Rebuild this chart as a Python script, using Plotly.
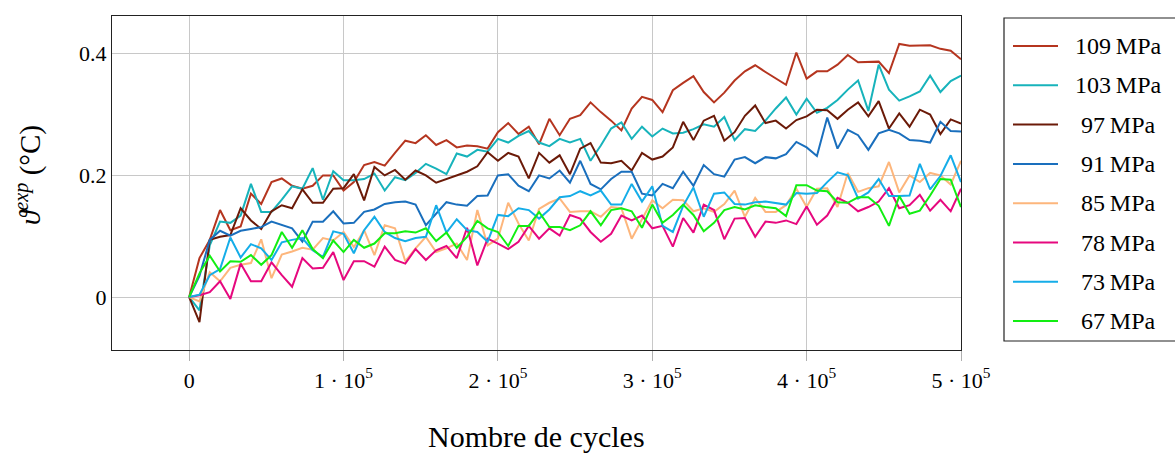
import numpy as np
import plotly.graph_objects as go

# Cycle counts at which the temperature rise was sampled
cycles = np.linspace(0, 500000, 76)

theta_109 = [0, 0.064, 0.094, 0.143, 0.11, 0.116, 0.17, 0.153, 0.189, 0.195,
             0.183, 0.178, 0.183, 0.2, 0.2, 0.175, 0.189, 0.217, 0.222, 0.216,
             0.237, 0.257, 0.253, 0.266, 0.25, 0.258, 0.246, 0.249, 0.248, 0.244,
             0.271, 0.286, 0.268, 0.28, 0.251, 0.293, 0.266, 0.293,
             0.299, 0.32, 0.304, 0.29, 0.274, 0.31, 0.329, 0.324, 0.304, 0.34,
             0.352, 0.363, 0.337, 0.32, 0.336, 0.356, 0.371, 0.381, 0.37, 0.36,
             0.349, 0.402, 0.359, 0.371, 0.371, 0.382, 0.398, 0.386, 0.386, 0.387,
             0.368, 0.416, 0.413, 0.413, 0.414, 0.408, 0.405, 0.391]

theta_103 = [0, -0.022, 0.085, 0.124, 0.122, 0.134, 0.186, 0.14, 0.14, 0.16,
             0.182, 0.178, 0.212, 0.16, 0.207, 0.192, 0.192, 0.194, 0.203, 0.175,
             0.197, 0.192, 0.204, 0.219, 0.211, 0.202, 0.236, 0.231, 0.242, 0.239,
             0.26, 0.254, 0.265, 0.273, 0.254, 0.248, 0.26, 0.254,
             0.26, 0.224, 0.249, 0.277, 0.287, 0.26, 0.28, 0.264, 0.277, 0.269,
             0.27, 0.276, 0.284, 0.28, 0.296, 0.258, 0.276, 0.273, 0.29, 0.31,
             0.328, 0.30, 0.326, 0.303, 0.311, 0.324, 0.341, 0.356, 0.306, 0.382,
             0.341, 0.323, 0.33, 0.338, 0.364, 0.337, 0.355, 0.364]

theta_97 = [0, -0.041, 0.094, 0.099, 0.102, 0.146, 0.126, 0.112, 0.141, 0.151,
            0.146, 0.177, 0.155, 0.155, 0.178, 0.179, 0.202, 0.159, 0.214, 0.2,
            0.209, 0.193, 0.208, 0.2, 0.188, 0.194, 0.2, 0.206, 0.215, 0.238,
            0.224, 0.237, 0.231, 0.195, 0.237, 0.221, 0.233, 0.202,
            0.244, 0.253, 0.221, 0.22, 0.224, 0.208, 0.237, 0.226, 0.231, 0.246,
            0.288, 0.258, 0.29, 0.298, 0.257, 0.271, 0.298, 0.315, 0.286, 0.29,
            0.277, 0.291, 0.297, 0.308, 0.307, 0.293, 0.308, 0.32, 0.297, 0.322,
            0.277, 0.302, 0.28, 0.308, 0.3, 0.268, 0.292, 0.285]

theta_91 = [0, 0.035, 0.094, 0.109, 0.101, 0.109, 0.112, 0.115, 0.124, 0.119,
            0.113, 0.091, 0.124, 0.124, 0.141, 0.121, 0.122, 0.14, 0.144, 0.153,
            0.156, 0.157, 0.152, 0.118, 0.137, 0.156, 0.152, 0.15, 0.166, 0.167,
            0.2, 0.202, 0.183, 0.174, 0.2, 0.195, 0.208, 0.188,
            0.224, 0.186, 0.177, 0.194, 0.206, 0.206, 0.17, 0.167, 0.186, 0.179,
            0.206, 0.183, 0.217, 0.202, 0.198, 0.226, 0.23, 0.22, 0.23, 0.228,
            0.235, 0.255, 0.246, 0.232, 0.295, 0.244, 0.275, 0.266, 0.242, 0.269,
            0.275, 0.269, 0.258, 0.257, 0.254, 0.288, 0.273, 0.272]

theta_85 = [0, -0.007, 0.041, 0.026, 0.048, 0.053, 0.056, 0.095, 0.031, 0.07,
            0.075, 0.081, 0.078, 0.097, 0.093, 0.107, 0.082, 0.11, 0.069,
            0.118, 0.113, 0.059, 0.08, 0.099, 0.074, 0.08, 0.088, 0.061, 0.143,
            0.085, 0.096, 0.155, 0.121, 0.093, 0.145, 0.155, 0.162, 0.14,
            0.141, 0.141, 0.132, 0.148, 0.146, 0.096, 0.128, 0.159, 0.146, 0.16,
            0.159, 0.141, 0.146, 0.14, 0.153, 0.175, 0.132, 0.163, 0.14, 0.14,
            0.151, 0.178, 0.148, 0.178, 0.179, 0.148, 0.204, 0.173, 0.179, 0.182,
            0.222, 0.172, 0.2, 0.189, 0.204, 0.2, 0.185, 0.224]

theta_78 = [0, 0.003, 0.008, 0.026, -0.003, 0.055, 0.026, 0.026, 0.057, 0.036,
            0.017, 0.064, 0.047, 0.048, 0.074, 0.028, 0.059, 0.059, 0.05,
            0.083, 0.061, 0.055, 0.079, 0.061, 0.077, 0.084, 0.064, 0.114, 0.052,
            0.096, 0.088, 0.079, 0.091, 0.117, 0.096, 0.113, 0.101, 0.135,
            0.129, 0.107, 0.091, 0.104, 0.134, 0.126, 0.134, 0.113, 0.117, 0.083,
            0.13, 0.106, 0.152, 0.143, 0.095, 0.129, 0.13, 0.099, 0.124, 0.122,
            0.126, 0.12, 0.149, 0.119, 0.134, 0.163, 0.155, 0.141, 0.148, 0.157,
            0.179, 0.146, 0.151, 0.168, 0.142, 0.16, 0.141, 0.178]

theta_73 = [0, 0.004, 0.036, 0.046, 0.098, 0.065, 0.087, 0.08, 0.061,
            0.09, 0.094, 0.097, 0.077, 0.066, 0.108, 0.104, 0.072, 0.11, 0.132,
            0.107, 0.097, 0.092, 0.097, 0.099, 0.151, 0.106, 0.128, 0.11, 0.107,
            0.091, 0.135, 0.133, 0.146, 0.143, 0.129, 0.144, 0.164, 0.166,
            0.174, 0.167, 0.175, 0.152, 0.152, 0.186, 0.157, 0.182, 0.117, 0.107,
            0.15, 0.18, 0.132, 0.17, 0.172, 0.153, 0.152, 0.156, 0.157, 0.154,
            0.152, 0.171, 0.17, 0.171, 0.189, 0.205, 0.2, 0.162, 0.172, 0.194,
            0.166, 0.166, 0.167, 0.219, 0.177, 0.199, 0.233, 0.189]

theta_67 = [0, 0.039, 0.068, 0.042, 0.059, 0.058, 0.069, 0.053, 0.069, 0.107,
            0.081, 0.11, 0.079, 0.064, 0.093, 0.074, 0.094, 0.081, 0.088,
            0.105, 0.105, 0.108, 0.106, 0.113, 0.092, 0.106, 0.081, 0.099, 0.125,
            0.113, 0.107, 0.084, 0.117, 0.117, 0.14, 0.115, 0.115, 0.11,
            0.118, 0.141, 0.118, 0.143, 0.146, 0.141, 0.114, 0.152, 0.122, 0.135,
            0.152, 0.135, 0.108, 0.122, 0.143, 0.148, 0.144, 0.151, 0.148, 0.146,
            0.133, 0.184, 0.184, 0.175, 0.174, 0.156, 0.155, 0.164, 0.164, 0.15,
            0.117, 0.166, 0.137, 0.142, 0.167, 0.194, 0.193, 0.148]

labels = ["109\u2009MPa", "103\u2009MPa", "97\u2009MPa", "91\u2009MPa",
          "85\u2009MPa", "78\u2009MPa", "73\u2009MPa", "67\u2009MPa"]
series = [theta_109, theta_103, theta_97, theta_91, theta_85, theta_78, theta_73, theta_67]
colors = ["#b5351f", "#17b3bb", "#6b1a08", "#1a6fbd",
          "#fdb67c", "#e6087e", "#15ade8", "#12ee12"]

x_ticks = [0, 100000, 200000, 300000, 400000, 500000]
x_ticktext = ["0", "1 · 10<sup>5</sup>", "2 · 10<sup>5</sup>", "3 · 10<sup>5</sup>",
              "4 · 10<sup>5</sup>", "5 · 10<sup>5</sup>"]
y_ticks = [0, 0.2, 0.4]
y_ticktext = ["0", "0.2", "0.4"]

FONT = "Liberation Serif"

# plot-area geometry (pixels) used to place the boxed legend beside the axes
W, H = 1175, 454
ML, MR, MT, MB = 112, 214, 16, 104
PW, PH = W - ML - MR, H - MT - MB


def px_x(px):
    return (px - ML) / PW


def px_y(py):
    return (H - MB - py) / PH


fig = go.Figure()
for name, vals, col in zip(labels, series, colors):
    fig.add_trace(go.Scatter(
        x=cycles, y=vals, mode="lines", name=name,
        line=dict(color=col, width=2), showlegend=False,
    ))

fig.update_layout(
    width=W, height=H, autosize=False,
    margin=dict(l=ML, r=MR, t=MT, b=MB),
    plot_bgcolor="white", paper_bgcolor="white",
    font=dict(family=FONT, size=22, color="black"),
)

fig.update_xaxes(
    range=[-50000, 500000], tickvals=x_ticks, ticktext=x_ticktext,
    showgrid=True, gridcolor="#c8c8c8", gridwidth=1, zeroline=False,
    showline=True, mirror=True, linecolor="#222", linewidth=1.3,
    ticks="outside", ticklen=10, tickcolor="#b0b0b0",
    tickfont=dict(family=FONT, size=22),
)
fig.update_yaxes(
    range=[-0.087, 0.462], tickvals=y_ticks, ticktext=y_ticktext,
    showgrid=True, gridcolor="#c8c8c8", gridwidth=1, zeroline=False,
    showline=True, mirror=True, linecolor="#222", linewidth=1.3,
    ticks="", tickfont=dict(family=FONT, size=22),
)

# boxed legend on the right
fig.add_shape(type="rect", xref="paper", yref="paper",
              x0=px_x(1004), x1=px_x(1190), y0=px_y(341), y1=px_y(18),
              line=dict(color="#222", width=1.2), fillcolor="white", layer="above")
for k, (name, col) in enumerate(zip(labels, colors)):
    yc = px_y(46 + 39.3 * k)
    fig.add_shape(type="line", xref="paper", yref="paper",
                  x0=px_x(1013), x1=px_x(1058), y0=yc, y1=yc,
                  line=dict(color=col, width=2), layer="above")
    fig.add_annotation(text=name, xref="paper", yref="paper",
                       x=px_x(1118), y=yc, xanchor="center", yanchor="middle",
                       showarrow=False, font=dict(family=FONT, size=24))

fig.add_annotation(
    text="Nombre de cycles", xref="paper", yref="paper",
    x=0.5, y=px_y(437), xanchor="center", yanchor="middle", showarrow=False,
    font=dict(family=FONT, size=30),
)
fig.add_annotation(
    text="<i>ϑ</i><sup><i>exp</i></sup> (°C)", xref="paper", yref="paper",
    x=px_x(28), y=px_y(175), xanchor="center", yanchor="middle", showarrow=False,
    textangle=-90, font=dict(family=FONT, size=29),
)

fig.write_html("out.html")
